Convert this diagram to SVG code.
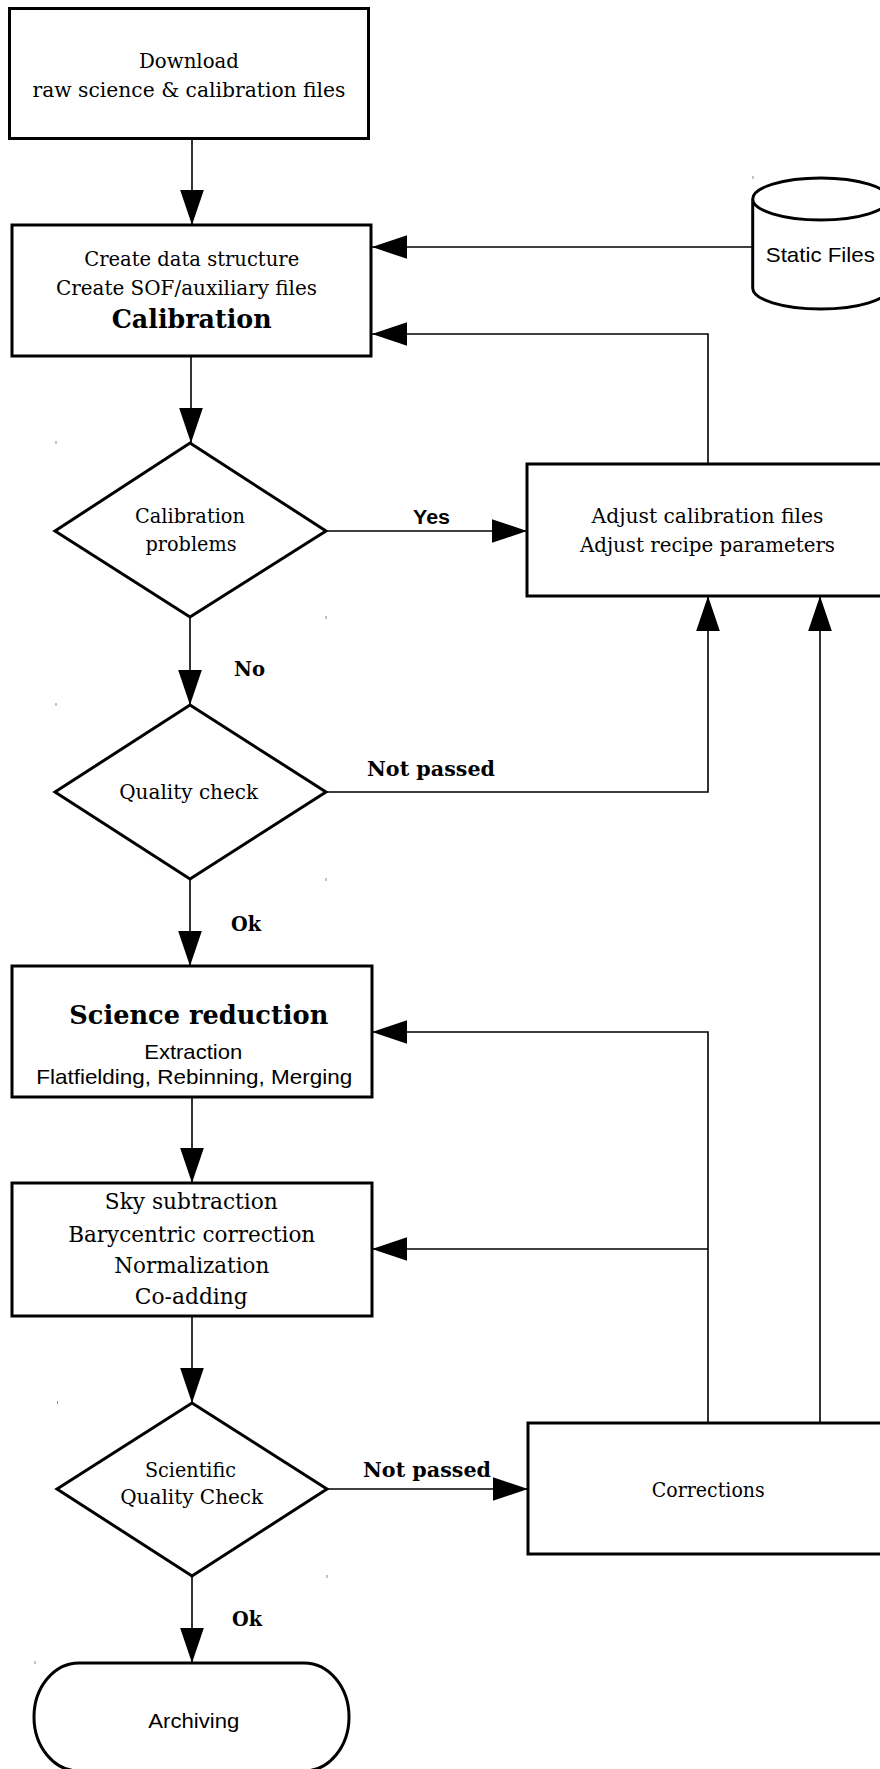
<svg xmlns="http://www.w3.org/2000/svg" width="880" height="1769" viewBox="0 0 880 1769">
<style>
.box{fill:#fff;stroke:#000;stroke-width:3}
.conn{fill:none;stroke:#000;stroke-width:1.6}
.serif{font-family:"DejaVu Serif",serif;font-size:20px;fill:#000;text-anchor:middle}
.big{font-size:22px}
.bold{font-family:"DejaVu Serif",serif;font-weight:bold;fill:#000}
.title{font-size:26px;text-anchor:middle}
.lbl{font-size:20px}
.sans{font-family:"Liberation Sans",Arial,sans-serif;font-size:21px;fill:#000;text-anchor:middle}
.sansb{font-family:"Liberation Sans",Arial,sans-serif;font-size:20px;font-weight:bold;fill:#000}
.tick{fill:#888}
</style>
<defs>
<marker id="arr" markerUnits="userSpaceOnUse" markerWidth="35" markerHeight="24" viewBox="0 0 34 23" refX="34" refY="11.5" orient="auto">
<path d="M0,0 L34,11.5 L0,23 Z" fill="#000"/>
</marker>
</defs>
<rect width="880" height="1769" fill="#fff"/>

<g id="connectors">
<path class="conn" d="M192,139 V225" marker-end="url(#arr)"/>
<path class="conn" d="M752,247 H372" marker-end="url(#arr)"/>
<path class="conn" d="M708,464 V334 H372" marker-end="url(#arr)"/>
<path class="conn" d="M191,356 V443" marker-end="url(#arr)"/>
<path class="conn" d="M326,531 H527" marker-end="url(#arr)"/>
<path class="conn" d="M190,617 V705" marker-end="url(#arr)"/>
<path class="conn" d="M326,792 H708 V596" marker-end="url(#arr)"/>
<path class="conn" d="M190,879 V966" marker-end="url(#arr)"/>
<path class="conn" d="M192,1097 V1183" marker-end="url(#arr)"/>
<path class="conn" d="M192,1316 V1403" marker-end="url(#arr)"/>
<path class="conn" d="M327,1489 H528" marker-end="url(#arr)"/>
<path class="conn" d="M192,1576 V1663" marker-end="url(#arr)"/>
<path class="conn" d="M708,1423 V1032 H372" marker-end="url(#arr)"/>
<path class="conn" d="M708,1249 H372" marker-end="url(#arr)"/>
<path class="conn" d="M820,1423 V596" marker-end="url(#arr)"/>
<text class="sansb" x="413" y="524" textLength="37" lengthAdjust="spacingAndGlyphs">Yes</text>
<text class="bold lbl" x="234" y="676" textLength="31" lengthAdjust="spacingAndGlyphs">No</text>
<text class="bold lbl" x="367" y="776" textLength="128" lengthAdjust="spacingAndGlyphs">Not passed</text>
<text class="bold lbl" x="231" y="931" textLength="30" lengthAdjust="spacingAndGlyphs">Ok</text>
<text class="bold lbl" x="363" y="1477" textLength="128" lengthAdjust="spacingAndGlyphs">Not passed</text>
<text class="bold lbl" x="232" y="1626" textLength="30" lengthAdjust="spacingAndGlyphs">Ok</text>
</g>

<g id="download">
<rect class="box" x="9.5" y="8.5" width="359" height="130"/>
<text class="serif" x="189" y="68" textLength="100" lengthAdjust="spacingAndGlyphs">Download</text>
<text class="serif" x="189" y="97" textLength="313" lengthAdjust="spacingAndGlyphs">raw science &amp; calibration files</text>
</g>

<g id="calibration">
<rect class="box" x="12" y="225" width="359" height="131"/>
<text class="serif" x="191.7" y="266" textLength="215" lengthAdjust="spacingAndGlyphs">Create data structure</text>
<text class="serif" x="186.5" y="295" textLength="261" lengthAdjust="spacingAndGlyphs">Create SOF/auxiliary files</text>
<text class="bold title" x="191.7" y="328" textLength="160" lengthAdjust="spacingAndGlyphs">Calibration</text>
</g>

<g id="static-files">
<path class="box" d="M752.7,199 A68,21 0 0 1 888.7,199 A68,21 0 0 1 752.7,199 V288 A68,21 0 0 0 888.7,288 V199"/>
<text class="sans" x="820.3" y="262" font-size="22" textLength="109" lengthAdjust="spacingAndGlyphs">Static Files</text>
</g>

<g id="calibration-problems">
<polygon class="box" points="190,443 326,531 190,617 55,531"/>
<text class="serif" x="190" y="523" textLength="110" lengthAdjust="spacingAndGlyphs">Calibration</text>
<text class="serif" x="191" y="551" textLength="91" lengthAdjust="spacingAndGlyphs">problems</text>
</g>

<g id="adjust">
<rect class="box" x="527" y="464" width="361" height="132"/>
<text class="serif" x="707.5" y="523" textLength="232" lengthAdjust="spacingAndGlyphs">Adjust calibration files</text>
<text class="serif" x="707.5" y="552" textLength="255" lengthAdjust="spacingAndGlyphs">Adjust recipe parameters</text>
</g>

<g id="quality-check">
<polygon class="box" points="190,705 326,792 190,879 55,792"/>
<text class="serif" x="188.7" y="799" textLength="139" lengthAdjust="spacingAndGlyphs">Quality check</text>
</g>

<g id="science-reduction">
<rect class="box" x="12" y="966" width="360" height="131"/>
<text class="bold title" x="198.8" y="1024" textLength="259" lengthAdjust="spacingAndGlyphs">Science reduction</text>
<text class="sans" x="193.2" y="1059" textLength="98" lengthAdjust="spacingAndGlyphs">Extraction</text>
<text class="sans" x="194.2" y="1084" textLength="316" lengthAdjust="spacingAndGlyphs">Flatfielding, Rebinning, Merging</text>
</g>

<g id="sky-subtraction">
<rect class="box" x="12" y="1183" width="360" height="133"/>
<text class="serif big" x="191.3" y="1209" textLength="173" lengthAdjust="spacingAndGlyphs">Sky subtraction</text>
<text class="serif big" x="191.7" y="1242" textLength="247" lengthAdjust="spacingAndGlyphs">Barycentric correction</text>
<text class="serif big" x="191.8" y="1273" textLength="155" lengthAdjust="spacingAndGlyphs">Normalization</text>
<text class="serif big" x="191.3" y="1304" textLength="113" lengthAdjust="spacingAndGlyphs">Co-adding</text>
</g>

<g id="scientific-quality-check">
<polygon class="box" points="192,1403 327,1489 192,1576 57,1489"/>
<text class="serif" x="190.5" y="1477" textLength="91" lengthAdjust="spacingAndGlyphs">Scientific</text>
<text class="serif" x="191.7" y="1504" textLength="143" lengthAdjust="spacingAndGlyphs">Quality Check</text>
</g>

<g id="corrections">
<rect class="box" x="528" y="1423" width="360" height="131"/>
<text class="serif" x="708.3" y="1497" textLength="113" lengthAdjust="spacingAndGlyphs">Corrections</text>
</g>

<g id="archiving">
<rect class="box" x="34" y="1663" width="315" height="108" rx="45" ry="54"/>
<text class="sans" x="193.8" y="1728" textLength="91" lengthAdjust="spacingAndGlyphs">Archiving</text>
</g>

<g id="ticks">
<rect class="tick" x="55.5" y="441" width="1" height="3"/>
<rect class="tick" x="325.5" y="616" width="1" height="3"/>
<rect class="tick" x="55.5" y="703" width="1" height="3"/>
<rect class="tick" x="325.5" y="878" width="1" height="3"/>
<rect class="tick" x="57" y="1401" width="1" height="3"/>
<rect class="tick" x="326.5" y="1575" width="1" height="3"/>
<rect class="tick" x="34.5" y="1661" width="1" height="3"/>
<rect class="tick" x="752.5" y="176" width="1" height="3"/>
</g>
</svg>
